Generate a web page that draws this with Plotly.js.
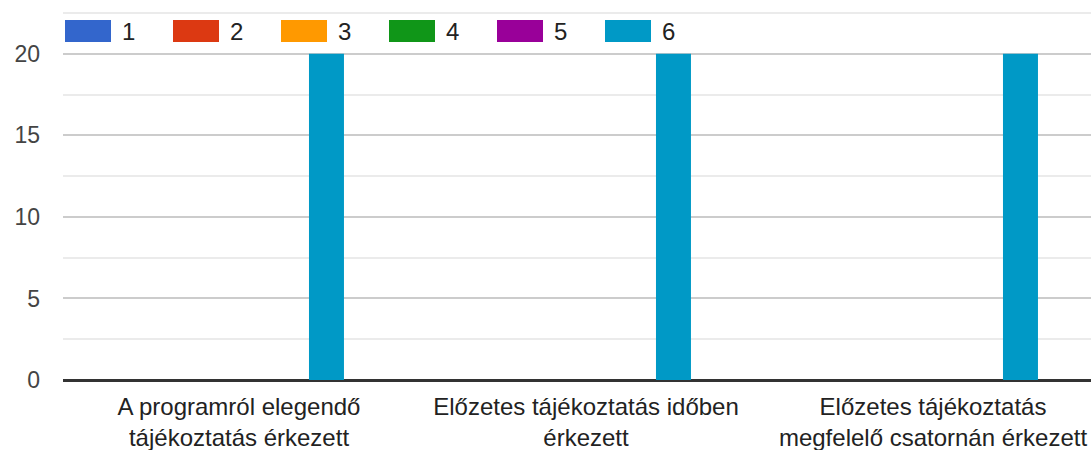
<!DOCTYPE html>
<html>
<head>
<meta charset="utf-8">
<script src="https://cdn.plot.ly/plotly-3.0.1.min.js"></script>
<style>
html,body{margin:0;padding:0;background:#fff;overflow:hidden;}
#chart{width:1091px;height:450px;}
</style>
</head>
<body>
<div id="chart"></div>
<script>
const categories = [
  "A programról elegendő<br>tájékoztatás érkezett",
  "Előzetes tájékoztatás időben<br>érkezett",
  "Előzetes tájékoztatás<br>megfelelő csatornán érkezett"
];
const seriesNames = ["1", "2", "3", "4", "5", "6"];
const seriesColors = ["#3366cc", "#dc3912", "#ff9900", "#109618", "#990099", "#0099c6"];
const s1 = [0, 0, 0];
const s2 = [0, 0, 0];
const s3 = [0, 0, 0];
const s4 = [0, 0, 0];
const s5 = [0, 0, 0];
const s6 = [20, 20, 20];
const seriesValues = [s1, s2, s3, s4, s5, s6];
const yTicks = [0, 5, 10, 15, 20];
const yTop = 22.5;

const W = 1091, H = 450;
const mL = 63, mR = 0, mT = 12, mB = 70;
const plotW = W - mL - mR, plotH = H - mT - mB;

const traces = seriesNames.map((n, i) => ({
  type: "bar",
  name: n,
  x: categories,
  y: seriesValues[i],
  marker: {color: seriesColors[i]},
  showlegend: false,
  hoverinfo: "x+y+name"
}));

// custom legend (larger swatches like the reference)
const shapes = [];
const annotations = [];
const px2x = p => (p - mL) / plotW;
const py2y = p => (H - mB - p) / plotH;

// top light gridline
shapes.push({
  type: "line", xref: "paper", yref: "y", layer: "below",
  x0: 0, x1: 1, y0: yTop, y1: yTop,
  line: {color: "#ebebeb", width: 2}
});

seriesNames.forEach((n, i) => {
  const x0 = 65 + i * 108;
  shapes.push({
    type: "rect", xref: "paper", yref: "paper", layer: "above",
    x0: px2x(x0), x1: px2x(x0 + 46), y0: py2y(42), y1: py2y(20),
    fillcolor: seriesColors[i], line: {width: 0}
  });
  annotations.push({
    xref: "paper", yref: "paper", x: px2x(x0 + 55), y: py2y(31.5),
    xanchor: "left", yanchor: "middle", showarrow: false,
    text: n, font: {family: "Liberation Sans, Arial, sans-serif", size: 24, color: "#222222"}
  });
});

const catW = 347;
const x0range = -(239 - mL) / catW;

const layout = {
  width: W, height: H,
  margin: {l: mL, r: mR, t: mT, b: mB, pad: 0},
  paper_bgcolor: "#ffffff",
  plot_bgcolor: "#ffffff",
  barmode: "group",
  bargap: 0.395,
  bargroupgap: 0,
  font: {family: "Liberation Sans, Arial, sans-serif", size: 23, color: "#444444"},
  xaxis: {
    type: "category",
    range: [x0range, x0range + plotW / catW],
    showgrid: false, zeroline: false, showline: false,
    ticks: "",
    ticklabelstandoff: 10,
    tickfont: {size: 24, color: "#222222"},
    fixedrange: true
  },
  yaxis: {
    range: [0, 22.56],
    tickvals: yTicks,
    ticktext: yTicks.map(String),
    showgrid: true, gridcolor: "#cccccc", gridwidth: 2,
    minor: {dtick: 2.5, tick0: 0, showgrid: true, gridcolor: "#ebebeb", gridwidth: 2},
    zeroline: true, zerolinecolor: "#333333", zerolinewidth: 3,
    showline: false, ticks: "",
    ticklabelstandoff: 22,
    tickfont: {size: 23, color: "#444444"},
    fixedrange: true
  },
  shapes: shapes,
  annotations: annotations,
  showlegend: false
};

Plotly.newPlot("chart", traces, layout, {displayModeBar: false, staticPlot: true});
</script>
</body>
</html>
